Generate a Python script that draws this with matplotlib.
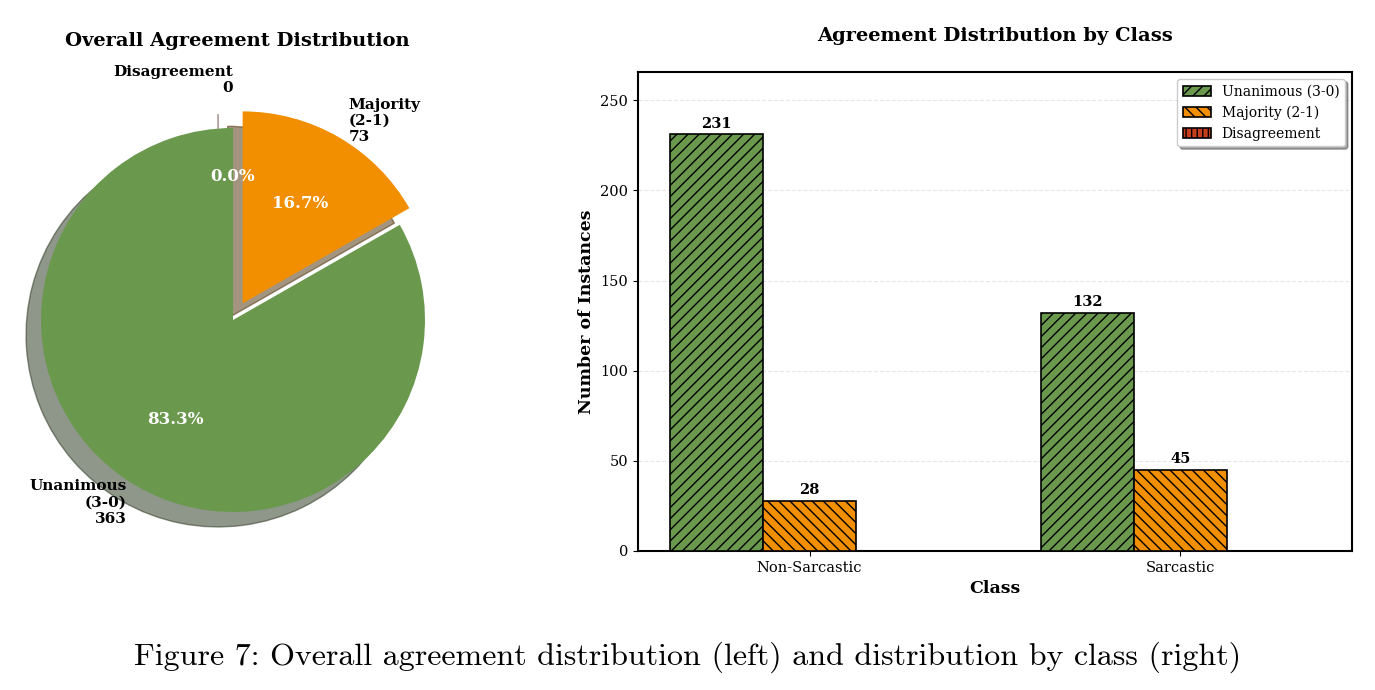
import matplotlib
matplotlib.use("Agg")
import matplotlib.pyplot as plt
import numpy as np

plt.rcParams['font.family'] = ['DejaVu Serif']

# ---- data ----
pie_labels = ['Unanimous\n(3-0)', 'Majority\n(2-1)', 'Disagreement']
pie_counts = [363, 73, 0]
pie_colors = ['#6A994E', '#F18F01', '#C73E1D']
pie_explode = [0.0, 0.1, 0.15]

classes = ['Non-Sarcastic', 'Sarcastic']
series_names = ['Unanimous (3-0)', 'Majority (2-1)', 'Disagreement']
unanimous = [231, 132]
majority = [28, 45]
disagreement = [0, 0]
bar_colors = ['#6A994E', '#F18F01', '#C73E1D']
bar_hatches = ['///', '\\\\\\', '|||']

caption = "Figure 7: Overall agreement distribution (left) and distribution by class (right)"

W, H = 1375, 690
fig = plt.figure(figsize=(W / 100, H / 100), dpi=100)

def px_axes(x0, y0, x1, y1):
    return fig.add_axes([x0 / W, 1 - y1 / H, (x1 - x0) / W, (y1 - y0) / H])

# ---- pie ----
cx, cy, r = 233, 320, 192
ax_top, ax_bot, ax_l, ax_r = 56, 590, 0, 474
ax1 = px_axes(ax_l, ax_top, ax_r, ax_bot)
pie_text = [f"{l}\n{c}" for l, c in zip(pie_labels, pie_counts)]
wedges, texts, autotexts = ax1.pie(
    pie_counts, labels=pie_text, colors=pie_colors, explode=pie_explode,
    autopct='%1.1f%%', startangle=90, shadow={'ox': -0.056, 'oy': -0.056},
    textprops=dict(fontsize=11, fontweight='bold'))
for t in autotexts:
    t.set_color('white')
    t.set_fontsize(12)
    t.set_fontweight('bold')
ax1.set_aspect('auto')
ax1.set_xlim((ax_l - cx) / r, (ax_r - cx) / r)
ax1.set_ylim((cy - ax_bot) / r, (cy - ax_top) / r)
ax1.set_title('Overall Agreement Distribution', fontsize=14, fontweight='bold', pad=7)

# ---- bars ----
ax2 = px_axes(638, 72, 1352, 551)
x = np.arange(len(classes))
w = 0.25
series = [unanimous, majority, disagreement]
for i, (vals, name, col, hat) in enumerate(zip(series, series_names, bar_colors, bar_hatches)):
    bars = ax2.bar(x + (i - 1) * w, vals, w, label=name, color=col, hatch=hat,
                   edgecolor='black', linewidth=1.2, zorder=3)
    for b, v in zip(bars, vals):
        if v > 0:
            ax2.text(b.get_x() + b.get_width() / 2, v + 2, str(v), ha='center', va='bottom',
                     fontsize=10.5, fontweight='bold')
ax2.set_xticks(x)
ax2.set_xticklabels(classes, fontsize=10.5)
ax2.tick_params(axis='y', labelsize=10.5)
ax2.set_ylim(0, max(unanimous) * 1.15)
ax2.grid(axis='y', linestyle='--', alpha=0.3, zorder=0)
ax2.set_axisbelow(True)
for s in ax2.spines.values():
    s.set_linewidth(1.5)
    s.set_color('black')
ax2.set_xlabel('Class', fontsize=12.5, fontweight='bold')
ax2.set_ylabel('Number of Instances', fontsize=12.5, fontweight='bold')
ax2.set_title('Agreement Distribution by Class', fontsize=14, fontweight='bold', pad=22)
ax2.legend(loc='upper right', fontsize=10, frameon=True, fancybox=True, shadow=True)

fig.text(0.5, 1 - 657 / H, caption, ha='center', va='center', fontsize=23, family='cmr10')

fig.savefig('out.png', dpi=100)
